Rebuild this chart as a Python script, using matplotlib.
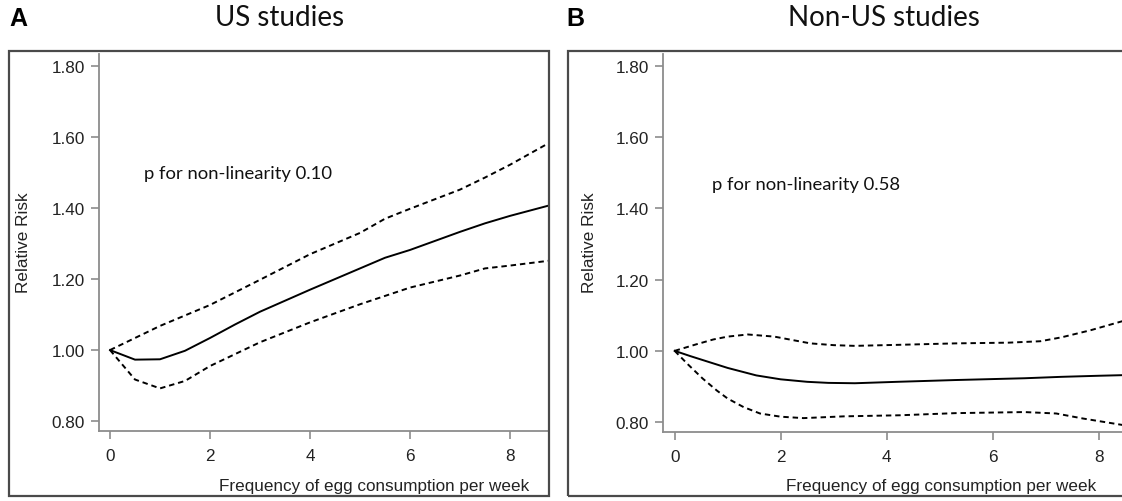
import matplotlib
matplotlib.use("Agg")
import matplotlib.pyplot as plt
from matplotlib.patches import Rectangle

plt.rcParams["font.family"] = ["Liberation Sans", "DejaVu Sans"]

# US studies (panel A)
us_x = [0, 0.5, 1.0, 1.5, 2, 2.5, 3, 4, 5, 5.5, 6, 7, 7.5, 8, 8.8]
us_rr = [1.00, 0.973, 0.974, 0.998, 1.034, 1.072, 1.108, 1.170, 1.230, 1.260, 1.282, 1.333, 1.357, 1.378, 1.408]
us_up_x = [0, 1, 2, 3, 4, 5, 5.5, 6, 7, 7.5, 8, 8.8]
us_up = [1.00, 1.068, 1.127, 1.198, 1.270, 1.330, 1.370, 1.398, 1.452, 1.486, 1.522, 1.585]
us_lo_x = [0, 0.5, 1.0, 1.5, 2, 3, 4, 5, 6, 7, 7.5, 8, 8.8]
us_lo = [1.00, 0.917, 0.892, 0.913, 0.955, 1.022, 1.078, 1.129, 1.176, 1.210, 1.230, 1.238, 1.252]

# Non-US studies (panel B)
nus_x = [0, 0.3, 0.66, 1.0, 1.54, 2.0, 2.5, 2.9, 3.4, 4.2, 5.3, 6.6, 7.3, 8.0, 8.8]
nus_rr = [1.00, 0.985, 0.968, 0.952, 0.931, 0.920, 0.913, 0.910, 0.909, 0.913, 0.918, 0.923, 0.927, 0.930, 0.933]
nus_up_x = [0, 0.4, 0.73, 1.0, 1.38, 1.88, 2.2, 2.56, 3.0, 3.4, 4.25, 5.3, 6.3, 6.9, 7.3, 7.85, 8.44, 8.8]
nus_up = [1.00, 1.018, 1.032, 1.040, 1.046, 1.040, 1.031, 1.021, 1.016, 1.014, 1.017, 1.021, 1.023, 1.027, 1.038, 1.058, 1.083, 1.098]
nus_lo_x = [0, 0.25, 0.53, 0.8, 1.0, 1.3, 1.61, 2.0, 2.43, 3.2, 4.25, 5.3, 6.6, 7.2, 7.7, 8.44, 8.8]
nus_lo = [1.00, 0.962, 0.922, 0.888, 0.866, 0.842, 0.824, 0.815, 0.811, 0.816, 0.819, 0.825, 0.828, 0.824, 0.810, 0.792, 0.785]

y_ticks = [0.80, 1.00, 1.20, 1.40, 1.60, 1.80]
x_ticks = [0, 2, 4, 6, 8]

W, H = 1122, 502
fig = plt.figure(figsize=(W / 100, H / 100), dpi=100)

TITLE_FONT = "Lato"
AXIS_GRAY = "#8c8c8c"
DASH = (0, (2.8, 2.0))


def px_rect(left, top, right, bottom):
    return [left / W, 1 - bottom / H, (right - left) / W, (bottom - top) / H]


def draw_panel(ax_rect, box_rect, letter, letter_xy, title, title_x, ptext, ptext_xy,
               curves, ylab_x, xlab_right):
    # outer frame
    bx = box_rect
    fig.patches.append(Rectangle((bx[0], bx[1]), bx[2], bx[3], transform=fig.transFigure,
                                 fill=False, edgecolor="#4a4a4a", linewidth=1.6, zorder=0))
    ax = fig.add_axes(ax_rect)
    ax.patch.set_alpha(0)
    x, y, xu, yu, xl, yl = curves
    ax.plot(x, y, color="black", linewidth=1.4, solid_joinstyle="round")
    ax.plot(xu, yu, color="black", linewidth=1.4, linestyle=DASH)
    ax.plot(xl, yl, color="black", linewidth=1.4, linestyle=DASH)
    ax.set_xlim(-0.22, 8.78)
    ax.set_ylim(0.772, 1.834)
    ax.set_xticks(x_ticks)
    ax.set_yticks(y_ticks)
    ax.set_yticklabels([f"{v:.2f}" for v in y_ticks])
    for s in ["top", "right"]:
        ax.spines[s].set_visible(False)
    for s in ["left", "bottom"]:
        ax.spines[s].set_color(AXIS_GRAY)
        ax.spines[s].set_linewidth(1.3)
    ax.tick_params(colors=AXIS_GRAY, length=6, width=1.2, labelcolor="#222222",
                   labelsize=12.3, pad=4)
    ax.tick_params(axis="x", pad=6)
    ax.text(ptext_xy[0], ptext_xy[1], ptext, fontsize=13.3, family=TITLE_FONT,
            va="center", ha="left", color="#111111")
    fig.text(letter_xy[0] / W, 1 - letter_xy[1] / H, letter, fontsize=18, fontweight="bold",
             va="center", ha="left")
    fig.text(title_x / W, 1 - 18 / H, title, fontsize=20, family=TITLE_FONT,
             va="center", ha="center", color="#111111")
    fig.text(ylab_x / W, 1 - 243 / H, "Relative Risk", rotation=90, fontsize=12.3,
             va="center", ha="center", color="#222222")
    fig.text(xlab_right / W, 1 - 487 / H, "Frequency of egg consumption per week",
             fontsize=12.3, va="center", ha="right", color="#222222")
    return ax


draw_panel(px_rect(99, 55, 549, 432), px_rect(9, 52, 549, 497), "A", (9, 19), "US studies", 280,
           "p for non-linearity 0.10", (0.68, 1.50),
           (us_x, us_rr, us_up_x, us_up, us_lo_x, us_lo), 24, 529)
draw_panel(px_rect(663, 55, 1140, 433), px_rect(568, 52, 1200, 497), "B", (566, 19), "Non-US studies", 884,
           "p for non-linearity 0.58", (0.70, 1.47),
           (nus_x, nus_rr, nus_up_x, nus_up, nus_lo_x, nus_lo), 590, 1096)

fig.savefig("out.png", dpi=100)
